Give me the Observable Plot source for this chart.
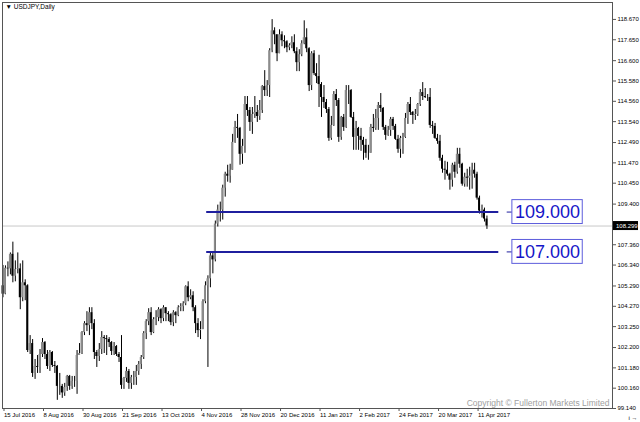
<!DOCTYPE html>
<html><head><meta charset="utf-8">
<script src="https://cdn.jsdelivr.net/npm/d3@7"></script>
<script src="https://cdn.jsdelivr.net/npm/@observablehq/plot@0.6"></script>
<style>body{margin:0;background:#fff;} svg{display:block}</style>
</head><body><div id="chart"></div>
<script>
// USDJPY daily bars, first bar 15 Jul 2016 (weekdays only)
const firstBar = "2016-07-15";
const opens = [105.30,104.88,106.18,106.15,106.88,105.78,106.12,106.15,104.70,105.45,105.30,102.05,102.40,100.90,101.25,101.20,101.85,102.45,101.85,101.25,101.95,101.30,101.25,100.25,100.25,99.92,100.20,100.75,100.25,100.50,100.50,101.80,101.90,102.95,103.40,103.30,103.95,103.40,101.95,101.75,102.10,102.70,102.65,102.60,102.45,102.00,102.25,101.85,101.70,100.30,100.65,101.00,100.40,100.70,100.70,101.00,101.35,101.70,102.90,103.50,103.95,102.95,103.60,103.70,104.10,103.65,104.20,103.90,103.85,103.45,103.95,103.80,104.20,104.25,104.40,105.25,104.70,104.80,104.20,103.40,103.05,103.10,104.50,105.30,105.65,106.80,106.60,108.40,109.10,109.10,110.20,110.90,110.80,111.10,112.50,113.25,113.20,111.90,112.30,114.40,114.10,113.50,113.90,114.00,113.80,114.10,115.30,115.10,115.35,117.10,118.10,117.90,116.95,117.90,117.60,117.55,117.25,117.35,117.50,117.05,116.50,116.90,117.45,117.75,117.20,115.35,116.95,115.95,115.80,115.40,114.75,114.50,114.15,112.70,113.35,114.90,114.60,112.75,113.75,113.25,115.10,115.10,113.75,112.75,113.20,112.80,112.60,112.35,111.95,111.95,113.25,113.20,113.70,114.35,114.20,113.25,112.85,113.10,113.65,113.30,112.65,112.15,112.70,112.75,113.70,114.40,114.00,113.85,113.90,114.40,115.00,114.80,114.75,114.75,113.35,113.30,112.70,112.55,111.70,111.15,111.10,110.90,110.60,111.35,111.00,111.90,111.40,110.40,110.75,110.70,110.80,111.10,110.90,109.70,109.05,109.10,108.65];
const highs = [106.32,106.30,106.50,106.95,107.49,106.55,106.95,106.40,106.55,105.60,105.35,102.80,102.60,101.60,101.80,102.10,102.65,102.50,102.05,102.05,102.00,101.50,101.30,100.90,100.35,100.40,100.80,100.80,100.75,100.75,102.05,102.40,103.00,103.50,104.00,104.20,104.20,103.60,102.05,102.40,103.00,102.80,102.80,102.70,102.50,102.45,102.30,101.95,102.80,100.70,101.20,101.10,100.80,101.00,101.30,101.50,101.80,103.00,103.60,104.15,104.20,103.70,104.05,104.20,104.15,104.30,104.20,104.00,103.90,104.05,104.00,104.30,104.40,104.50,105.30,105.50,105.10,105.00,104.30,103.65,103.50,104.60,105.50,105.80,106.95,107.00,108.55,109.35,109.50,110.35,111.00,111.35,111.40,112.90,113.55,113.90,113.25,112.65,114.80,114.80,114.25,114.25,114.80,114.35,114.60,115.35,116.10,115.60,117.20,118.66,118.25,117.90,118.15,118.05,117.85,117.60,117.45,117.80,117.90,117.25,117.15,117.60,118.60,118.20,117.25,117.05,117.10,116.45,116.87,115.50,115.35,114.65,114.25,113.80,115.05,115.15,114.70,113.80,113.90,115.35,115.35,115.15,114.00,113.55,113.25,113.20,112.75,112.65,112.35,113.40,113.90,114.15,114.50,114.95,114.25,113.35,113.30,113.75,113.75,113.40,112.85,112.80,112.95,113.95,114.50,114.75,114.05,114.15,114.45,115.15,115.50,115.20,114.90,115.20,113.55,113.45,112.90,112.85,111.85,111.55,111.50,110.95,111.45,111.50,112.20,112.20,111.45,110.95,111.15,111.25,111.45,111.45,111.00,109.80,109.35,109.20,108.80];
const lows = [104.70,104.85,105.75,105.85,105.45,105.50,105.90,104.10,104.50,104.55,101.95,101.85,100.70,100.60,100.90,100.90,101.70,101.60,101.10,101.00,101.20,100.90,99.55,99.80,99.65,99.75,100.00,100.05,100.10,100.20,99.85,101.80,101.85,102.80,103.00,102.80,103.10,101.60,101.20,101.50,101.85,101.90,101.80,102.20,101.80,101.80,101.75,101.45,100.10,100.10,100.45,100.10,100.10,100.30,100.30,100.80,101.10,101.60,102.60,103.30,102.80,102.90,103.30,103.50,103.40,103.50,103.50,103.50,103.30,103.25,103.40,103.75,104.00,104.00,104.30,104.50,104.60,104.00,102.90,102.70,102.60,103.10,104.40,101.20,105.20,105.90,106.50,108.25,108.50,108.60,109.75,110.50,110.45,111.10,112.45,112.70,111.35,111.40,111.95,113.80,113.05,112.90,113.70,113.50,113.60,113.95,114.80,114.80,114.75,117.00,117.40,116.55,116.95,117.30,117.20,117.00,117.10,117.20,116.95,116.05,116.05,116.80,117.40,117.00,115.05,115.10,115.85,115.45,114.25,113.75,114.20,113.95,112.55,112.60,113.30,114.30,112.50,112.60,113.05,113.20,114.40,113.70,112.10,112.10,112.10,112.05,111.60,111.70,111.60,111.95,113.00,113.10,113.10,114.00,113.10,112.60,112.80,112.80,113.10,112.60,111.95,111.70,111.90,112.70,113.40,113.85,113.40,113.60,113.80,114.30,114.60,114.70,114.55,113.20,112.90,112.65,112.40,111.55,110.95,110.60,110.80,110.10,110.25,110.70,110.90,111.20,110.30,110.25,110.25,110.10,110.15,110.70,109.60,108.90,108.70,108.50,108.13];
const closes = [104.88,106.18,106.15,106.88,105.78,106.12,106.15,104.70,105.45,105.30,102.05,102.40,100.90,101.25,101.20,101.85,102.45,101.85,101.25,101.95,101.30,101.25,100.25,100.25,99.92,100.20,100.75,100.25,100.50,100.50,101.80,101.90,102.95,103.40,103.30,103.95,103.40,101.95,101.75,102.10,102.70,102.65,102.60,102.45,102.00,102.25,101.85,101.70,100.30,100.65,101.00,100.40,100.70,100.70,101.00,101.35,101.70,102.90,103.50,103.95,102.95,103.60,103.70,104.10,103.65,104.20,103.90,103.85,103.45,103.95,103.80,104.20,104.25,104.40,105.25,104.70,104.80,104.20,103.40,103.05,103.10,104.50,105.30,105.65,106.80,106.60,108.40,109.10,109.10,110.20,110.90,110.80,111.10,112.50,113.25,113.20,111.90,112.30,114.40,114.10,113.50,113.90,114.00,113.80,114.10,115.30,115.10,115.35,117.10,118.10,117.90,116.95,117.90,117.60,117.55,117.25,117.35,117.50,117.05,116.50,116.90,117.45,117.75,117.20,115.35,116.95,115.95,115.80,115.40,114.75,114.50,114.15,112.70,113.35,114.90,114.60,112.75,113.75,113.25,115.10,115.10,113.75,112.75,113.20,112.80,112.60,112.35,111.95,111.95,113.25,113.20,113.70,114.35,114.20,113.25,112.85,113.10,113.65,113.30,112.65,112.15,112.70,112.75,113.70,114.40,114.00,113.85,113.90,114.40,115.00,114.80,114.75,114.75,113.35,113.30,112.70,112.55,111.70,111.15,111.10,110.90,110.60,111.35,111.00,111.90,111.40,110.40,110.75,110.70,110.80,111.10,110.90,109.70,109.05,109.10,108.65,108.30];

const priceTicks = [118.670,117.650,116.600,115.580,114.560,113.540,112.490,111.470,110.450,109.400,107.360,106.340,105.290,104.270,103.250,102.200,101.180,100.160,99.140];
const dateTickLabels = ["15 Jul 2016","8 Aug 2016","30 Aug 2016","21 Sep 2016","13 Oct 2016","4 Nov 2016","28 Nov 2016","20 Dec 2016","11 Jan 2017","2 Feb 2017","24 Feb 2017","20 Mar 2017","11 Apr 2017"];
const levels = [109.000, 107.000];
const currentPrice = 108.299;
const title = "▼ USDJPY,Daily";
const copyright = "Copyright © Fullerton Markets Limited";

// build weekday calendar for bars
const fmtKey = d3.utcFormat("%Y-%m-%d");
const dates = [];
{
  let d = new Date(firstBar + "T00:00:00Z");
  while (dates.length < opens.length) {
    const wd = d.getUTCDay();
    if (wd !== 0 && wd !== 6) dates.push(new Date(d));
    d = d3.utcDay.offset(d, 1);
  }
}
const keyToIndex = new Map(dates.map((d, i) => [fmtKey(d), i]));
const parseLabel = d3.utcParse("%d %b %Y");
const tickIdx = dateTickLabels.map(s => keyToIndex.get(fmtKey(parseLabel(s))));
const labelByIdx = new Map(tickIdx.map((i, k) => [i, dateTickLabels[k]]));

const bars = opens.map((o, i) => ({i, o, h: highs[i], l: lows[i], c: closes[i]}));
const upBars = bars.filter(d => d.c >= d.o);
const downBars = bars.filter(d => d.c < d.o);

const FONT = "Liberation Sans, Arial, DejaVu Sans, sans-serif";

function priceTag(value) {
  return (index, scales, values, dims) => {
    const y = scales.y(value);
    const x0 = dims.width - dims.marginRight + 1;
    const g = d3.create("svg:g");
    g.append("rect").attr("x", x0).attr("y", y - 4.5).attr("width", 25).attr("height", 9).attr("fill", "#000");
    g.append("text").attr("x", x0 + 3).attr("y", y).attr("dy", "0.35em")
      .attr("text-anchor", "start")
      .attr("fill", "#fff").attr("font-size", 6).attr("font-family", FONT).text(value.toFixed(3));
    return g.node();
  };
}

const chart = Plot.plot({
  width: 640,
  height: 422,
  marginLeft: 2,
  marginRight: 28,
  marginTop: 2,
  marginBottom: 14,
  style: {fontFamily: FONT, background: "#fff"},
  x: {type: "linear", domain: [-0.2, 246.85]},
  y: {domain: [99.14, 119.52]},
  marks: [
    Plot.ruleY([currentPrice], {stroke: "#c8c8c8", strokeWidth: 1}),
    Plot.ruleX(bars, {x: "i", y1: "l", y2: "h", stroke: "#000", strokeWidth: 1}),
    Plot.rect(upBars, {x1: d => d.i - 0.4, x2: d => d.i + 0.4, y1: "o", y2: "c", fill: "#8c8c8c"}),
    Plot.rect(downBars, {x1: d => d.i - 0.4, x2: d => d.i + 0.4, y1: "o", y2: "c", fill: "#000"}),
    Plot.ruleY(levels, {x1: 82.5, x2: 200.8, stroke: "#1f1f9e", strokeWidth: 2}),
    Plot.ruleY(levels, {x1: 204.2, x2: 206.3, stroke: "#1f1f9e", strokeWidth: 1}),
    Plot.rect(levels, {x1: 206.3, x2: 234.8, y1: d => d - 0.6, y2: d => d + 0.6, fill: "#fff", stroke: "#5c5cdc", strokeWidth: 1}),
    Plot.text(levels, {x: 220.55, y: d => d, text: d => d.toFixed(3), fill: "#1616c8", fontSize: 18, fontFamily: FONT, textAnchor: "middle"}),
    Plot.frame({stroke: "#555"}),
    Plot.axisY(priceTicks, {anchor: "right", tickFormat: d => d.toFixed(3), tickSize: 3, tickPadding: 2, fontSize: 6, stroke: "#555"}),
    Plot.axisX(tickIdx, {anchor: "bottom", tickFormat: i => labelByIdx.get(i), tickSize: 3, tickPadding: 1, textAnchor: "start", dx: 1, fontSize: 6, stroke: "#555"}),
    priceTag(currentPrice),
    Plot.text([title], {frameAnchor: "top-left", dx: 3, dy: 2, lineAnchor: "top", fontSize: 6.5, fill: "#000"}),
    Plot.text([copyright], {frameAnchor: "bottom-right", dx: -3, dy: -3, lineAnchor: "bottom", fontSize: 8.5, fill: "#a0a0a0"})
  ]
});
document.getElementById("chart").append(chart);
</script>
</body></html>
